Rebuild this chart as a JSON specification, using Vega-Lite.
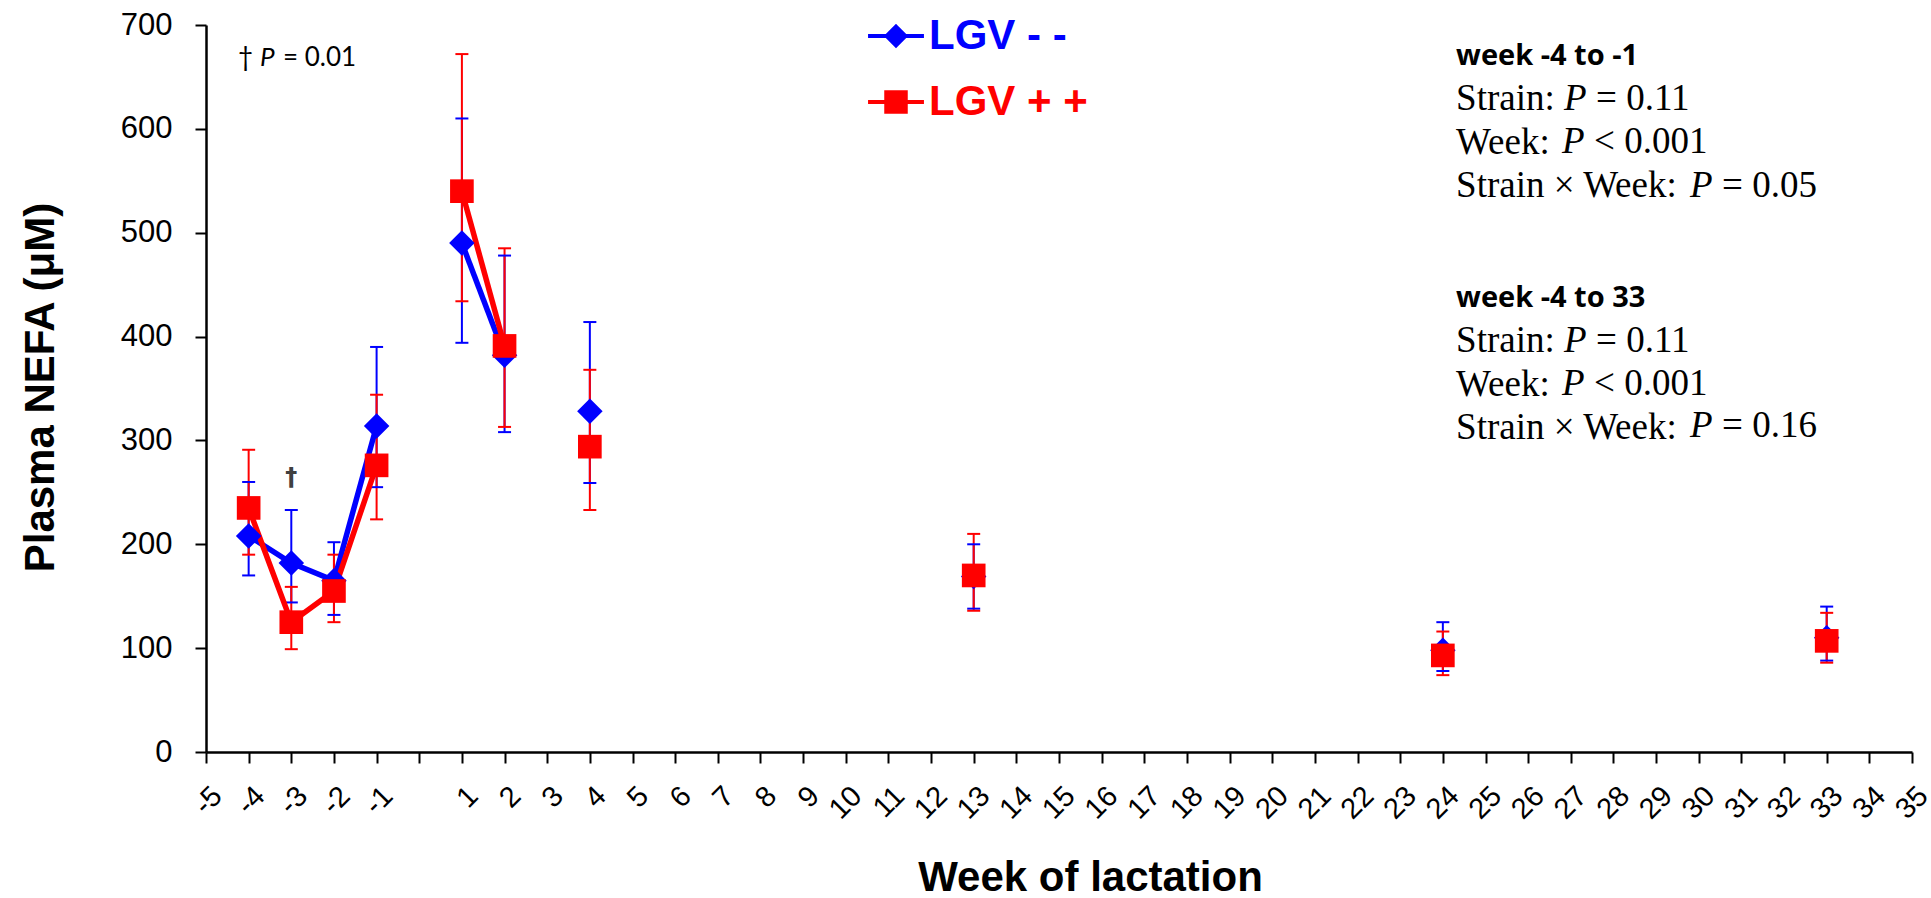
{
  "$schema": "https://vega.github.io/schema/vega-lite/v6.json",
  "autosize": "none",
  "width": 1706,
  "height": 727,
  "padding": {"left": 206, "top": 25, "right": 19, "bottom": 146},
  "background": "white",
  "config": {
    "font": "Liberation Sans",
    "view": {"stroke": null},
    "axis": {"grid": false, "domainColor": "black", "domainWidth": 2.5, "tickColor": "black", "tickWidth": 2, "tickSize": 11, "labelColor": "black", "titleColor": "black", "labelFont": "Liberation Sans", "titleFont": "Liberation Sans"}
  },
  "data": {"values": [
    {"week": -4, "group": "LGV - -", "mean": 208, "lo": 170, "hi": 260, "seg": "a"},
    {"week": -3, "group": "LGV - -", "mean": 182, "lo": 144, "hi": 233, "seg": "a"},
    {"week": -2, "group": "LGV - -", "mean": 165, "lo": 132, "hi": 202, "seg": "a"},
    {"week": -1, "group": "LGV - -", "mean": 314, "lo": 255, "hi": 390, "seg": "a"},
    {"week": 1, "group": "LGV - -", "mean": 490, "lo": 394, "hi": 610, "seg": "b"},
    {"week": 2, "group": "LGV - -", "mean": 382, "lo": 308, "hi": 478, "seg": "b"},
    {"week": 4, "group": "LGV - -", "mean": 328, "lo": 259, "hi": 414, "seg": null},
    {"week": 13, "group": "LGV - -", "mean": 169, "lo": 138, "hi": 200, "seg": null},
    {"week": 24, "group": "LGV - -", "mean": 98, "lo": 78, "hi": 125, "seg": null},
    {"week": 33, "group": "LGV - -", "mean": 110, "lo": 88, "hi": 140, "seg": null},
    {"week": -4, "group": "LGV + +", "mean": 235, "lo": 190, "hi": 291, "seg": "a"},
    {"week": -3, "group": "LGV + +", "mean": 125, "lo": 99, "hi": 159, "seg": "a"},
    {"week": -2, "group": "LGV + +", "mean": 155, "lo": 125, "hi": 190, "seg": "a"},
    {"week": -1, "group": "LGV + +", "mean": 276, "lo": 224, "hi": 344, "seg": "a"},
    {"week": 1, "group": "LGV + +", "mean": 540, "lo": 434, "hi": 672, "seg": "b"},
    {"week": 2, "group": "LGV + +", "mean": 391, "lo": 313, "hi": 485, "seg": "b"},
    {"week": 4, "group": "LGV + +", "mean": 294, "lo": 233, "hi": 368, "seg": null},
    {"week": 13, "group": "LGV + +", "mean": 170, "lo": 136, "hi": 210, "seg": null},
    {"week": 24, "group": "LGV + +", "mean": 93, "lo": 74, "hi": 116, "seg": null},
    {"week": 33, "group": "LGV + +", "mean": 107, "lo": 86, "hi": 134, "seg": null}
  ]},
  "layer": [
    {
      "mark": {"type": "rule", "strokeWidth": 2},
      "encoding": {
        "x": {"field": "week", "type": "quantitative", "scale": {"domain": [-5, 35], "nice": false, "zero": false},
          "axis": {"title": "Week of lactation", "values": [-5,-4,-3,-2,-1,0,1,2,3,4,5,6,7,8,9,10,11,12,13,14,15,16,17,18,19,20,21,22,23,24,25,26,27,28,29,30,31,32,33,34,35],
            "labelExpr": "datum.value === 0 ? '' : '' + datum.value", "labelAngle": -45, "labelAlign": "right", "labelBaseline": "top", "labelFontSize": 29, "labelPadding": 18, "labelOffset": 1, "labelOverlap": false,
            "titleFontSize": 42, "titleFontWeight": "bold", "titleX": 884, "titleY": 138, "titleBaseline": "alphabetic", "titleAlign": "center"}},
        "y": {"field": "lo", "type": "quantitative", "scale": {"domain": [0, 700], "nice": false},
          "axis": {"title": "Plasma NEFA (μM)", "values": [0,100,200,300,400,500,600,700], "format": "d", "labelFontSize": 31, "labelPadding": 23,
            "titleFontSize": 42, "titleFontWeight": "bold", "titleAngle": 270, "titleX": -153, "titleY": 362, "titleBaseline": "alphabetic", "titleAlign": "center"}},
        "y2": {"field": "hi"},
        "color": {"field": "group", "type": "nominal", "scale": {"domain": ["LGV + +", "LGV - -"], "range": ["#FF0000", "#0000FF"]}, "legend": null}
      }
    },
    {
      "mark": {"type": "tick", "orient": "horizontal", "size": 13, "thickness": 2, "opacity": 1},
      "encoding": {
        "x": {"field": "week", "type": "quantitative"},
        "y": {"field": "lo", "type": "quantitative"},
        "color": {"field": "group", "type": "nominal", "legend": null}
      }
    },
    {
      "mark": {"type": "tick", "orient": "horizontal", "size": 13, "thickness": 2, "opacity": 1},
      "encoding": {
        "x": {"field": "week", "type": "quantitative"},
        "y": {"field": "hi", "type": "quantitative"},
        "color": {"field": "group", "type": "nominal", "legend": null}
      }
    },
    {
      "transform": [{"filter": "isValid(datum.seg)"}],
      "mark": {"type": "line", "strokeWidth": 5.5},
      "encoding": {
        "x": {"field": "week", "type": "quantitative"},
        "y": {"field": "mean", "type": "quantitative"},
        "color": {"field": "group", "type": "nominal", "legend": null},
        "detail": {"field": "seg"}
      }
    },
    {
      "transform": [{"filter": "datum.group === 'LGV - -'"}],
      "mark": {"type": "point", "shape": "diamond", "size": 650, "filled": true, "opacity": 1, "strokeWidth": 0},
      "encoding": {
        "x": {"field": "week", "type": "quantitative"},
        "y": {"field": "mean", "type": "quantitative"},
        "color": {"field": "group", "type": "nominal", "legend": null}
      }
    },
    {
      "transform": [{"filter": "datum.group === 'LGV + +'"}],
      "mark": {"type": "point", "shape": "square", "size": 560, "filled": true, "opacity": 1, "strokeWidth": 0},
      "encoding": {
        "x": {"field": "week", "type": "quantitative"},
        "y": {"field": "mean", "type": "quantitative"},
        "color": {"field": "group", "type": "nominal", "legend": null}
      }
    },
    {
      "transform": [{"filter": "false"}],
      "mark": {"type": "point", "filled": true, "opacity": 1, "strokeWidth": 4},
      "encoding": {
        "x": {"field": "week", "type": "quantitative"},
        "y": {"field": "mean", "type": "quantitative"},
        "fill": {"field": "group", "type": "nominal",
          "scale": {"domain": ["LGV - -", "LGV + +"], "range": ["#0000FF", "#FF0000"]},
          "legend": {
            "orient": "none", "legendX": 669, "legendY": -10, "title": null, "direction": "vertical",
            "labelFont": "Liberation Sans", "labelFontSize": 42, "labelFontWeight": "bold",
            "labelColor": {"expr": "datum.value === 'LGV - -' ? '#0000FF' : '#FF0000'"},
            "symbolSize": 676, "symbolStrokeWidth": 4, "labelOffset": 12, "rowPadding": 24, "padding": 0
          }},
        "stroke": {"field": "group", "type": "nominal", "scale": {"domain": ["LGV - -", "LGV + +"], "range": ["#0000FF", "#FF0000"]}},
        "shape": {"field": "group", "type": "nominal", "scale": {"domain": ["LGV - -", "LGV + +"], "range": ["M-2.15,0H2.15M0,-0.72L0.72,0L0,0.72L-0.72,0Z", "M-2.15,0H2.15M-0.75,-0.75H0.75V0.75H-0.75Z"]}}
      }
    },
    {
      "data": {"values": [{}]},
      "mark": {"type": "text", "text": "†", "font": "DejaVu Sans", "fontWeight": "bold", "fontSize": 24, "color": "#404040", "align": "center", "baseline": "middle"},
      "encoding": {"x": {"datum": -3, "type": "quantitative"}, "y": {"datum": 264, "type": "quantitative"}}
    },
    {
      "data": {"values": [{}]},
      "mark": {"type": "text", "text": "†", "font": "Lato", "fontSize": 26, "color": "black", "align": "left", "baseline": "alphabetic"},
      "encoding": {"x": {"datum": -4.25, "type": "quantitative"}, "y": {"datum": 660.8, "type": "quantitative"}}
    },
    {
      "data": {"values": [{}]},
      "mark": {"type": "text", "text": "P", "font": "Lato", "fontStyle": "italic", "fontSize": 26, "color": "black", "align": "left", "baseline": "alphabetic", "dx": 22},
      "encoding": {"x": {"datum": -4.25, "type": "quantitative"}, "y": {"datum": 660.8, "type": "quantitative"}}
    },
    {
      "data": {"values": [{}]},
      "mark": {"type": "text", "text": "= 0.01", "font": "Lato", "fontSize": 26, "color": "black", "align": "left", "baseline": "alphabetic", "dx": 45},
      "encoding": {"x": {"datum": -4.25, "type": "quantitative"}, "y": {"datum": 660.8, "type": "quantitative"}}
    },
    {
      "data": {"values": [{}]},
      "mark": {"type": "text", "text": "week -4 to -1", "font": "Open Sans", "fontWeight": "bold", "fontSize": 29, "color": "black", "align": "left", "baseline": "alphabetic"},
      "encoding": {"x": {"datum": 24.31, "type": "quantitative"}, "y": {"datum": 661.5, "type": "quantitative"}}
    },
    {
      "data": {"values": [{}]},
      "mark": {"type": "text", "text": ["Strain:", "Week:", "Strain × Week:"], "lineHeight": 43.5, "font": "Liberation Serif", "fontSize": 37, "color": "black", "align": "left", "baseline": "alphabetic"},
      "encoding": {"x": {"datum": 24.31, "type": "quantitative"}, "y": {"datum": 618.1, "type": "quantitative"}}
    },
    {
      "data": {"values": [{}]},
      "mark": {"type": "text", "text": "P", "font": "Liberation Serif", "fontStyle": "italic", "fontSize": 37, "color": "black", "align": "left", "baseline": "alphabetic", "dx": 108},
      "encoding": {"x": {"datum": 24.31, "type": "quantitative"}, "y": {"datum": 618.1, "type": "quantitative"}}
    },
    {
      "data": {"values": [{}]},
      "mark": {"type": "text", "text": "P", "font": "Liberation Serif", "fontStyle": "italic", "fontSize": 37, "color": "black", "align": "left", "baseline": "alphabetic", "dx": 106},
      "encoding": {"x": {"datum": 24.31, "type": "quantitative"}, "y": {"datum": 576.7, "type": "quantitative"}}
    },
    {
      "data": {"values": [{}]},
      "mark": {"type": "text", "text": "P", "font": "Liberation Serif", "fontStyle": "italic", "fontSize": 37, "color": "black", "align": "left", "baseline": "alphabetic", "dx": 234},
      "encoding": {"x": {"datum": 24.31, "type": "quantitative"}, "y": {"datum": 534.4, "type": "quantitative"}}
    },
    {
      "data": {"values": [{}]},
      "mark": {"type": "text", "text": "= 0.11", "font": "Liberation Serif", "fontSize": 37, "color": "black", "align": "left", "baseline": "alphabetic", "dx": 140},
      "encoding": {"x": {"datum": 24.31, "type": "quantitative"}, "y": {"datum": 618.1, "type": "quantitative"}}
    },
    {
      "data": {"values": [{}]},
      "mark": {"type": "text", "text": "< 0.001", "font": "Liberation Serif", "fontSize": 37, "color": "black", "align": "left", "baseline": "alphabetic", "dx": 138},
      "encoding": {"x": {"datum": 24.31, "type": "quantitative"}, "y": {"datum": 576.7, "type": "quantitative"}}
    },
    {
      "data": {"values": [{}]},
      "mark": {"type": "text", "text": "= 0.05", "font": "Liberation Serif", "fontSize": 37, "color": "black", "align": "left", "baseline": "alphabetic", "dx": 266},
      "encoding": {"x": {"datum": 24.31, "type": "quantitative"}, "y": {"datum": 534.4, "type": "quantitative"}}
    },
    {
      "data": {"values": [{}]},
      "mark": {"type": "text", "text": "week -4 to 33", "font": "Open Sans", "fontWeight": "bold", "fontSize": 29, "color": "black", "align": "left", "baseline": "alphabetic"},
      "encoding": {"x": {"datum": 24.31, "type": "quantitative"}, "y": {"datum": 428.5, "type": "quantitative"}}
    },
    {
      "data": {"values": [{}]},
      "mark": {"type": "text", "text": ["Strain:", "Week:", "Strain × Week:"], "lineHeight": 43.5, "font": "Liberation Serif", "fontSize": 37, "color": "black", "align": "left", "baseline": "alphabetic"},
      "encoding": {"x": {"datum": 24.31, "type": "quantitative"}, "y": {"datum": 385.1, "type": "quantitative"}}
    },
    {
      "data": {"values": [{}]},
      "mark": {"type": "text", "text": "P", "font": "Liberation Serif", "fontStyle": "italic", "fontSize": 37, "color": "black", "align": "left", "baseline": "alphabetic", "dx": 108},
      "encoding": {"x": {"datum": 24.31, "type": "quantitative"}, "y": {"datum": 385.1, "type": "quantitative"}}
    },
    {
      "data": {"values": [{}]},
      "mark": {"type": "text", "text": "P", "font": "Liberation Serif", "fontStyle": "italic", "fontSize": 37, "color": "black", "align": "left", "baseline": "alphabetic", "dx": 106},
      "encoding": {"x": {"datum": 24.31, "type": "quantitative"}, "y": {"datum": 343.7, "type": "quantitative"}}
    },
    {
      "data": {"values": [{}]},
      "mark": {"type": "text", "text": "P", "font": "Liberation Serif", "fontStyle": "italic", "fontSize": 37, "color": "black", "align": "left", "baseline": "alphabetic", "dx": 234},
      "encoding": {"x": {"datum": 24.31, "type": "quantitative"}, "y": {"datum": 303.3, "type": "quantitative"}}
    },
    {
      "data": {"values": [{}]},
      "mark": {"type": "text", "text": "= 0.11", "font": "Liberation Serif", "fontSize": 37, "color": "black", "align": "left", "baseline": "alphabetic", "dx": 140},
      "encoding": {"x": {"datum": 24.31, "type": "quantitative"}, "y": {"datum": 385.1, "type": "quantitative"}}
    },
    {
      "data": {"values": [{}]},
      "mark": {"type": "text", "text": "< 0.001", "font": "Liberation Serif", "fontSize": 37, "color": "black", "align": "left", "baseline": "alphabetic", "dx": 138},
      "encoding": {"x": {"datum": 24.31, "type": "quantitative"}, "y": {"datum": 343.7, "type": "quantitative"}}
    },
    {
      "data": {"values": [{}]},
      "mark": {"type": "text", "text": "= 0.16", "font": "Liberation Serif", "fontSize": 37, "color": "black", "align": "left", "baseline": "alphabetic", "dx": 266},
      "encoding": {"x": {"datum": 24.31, "type": "quantitative"}, "y": {"datum": 303.3, "type": "quantitative"}}
    }
  ]
}
